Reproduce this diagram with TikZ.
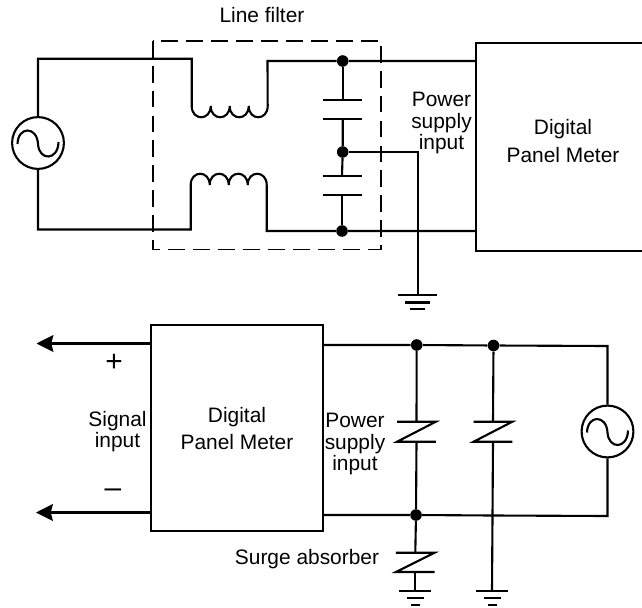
\documentclass[tikz,border=0pt]{standalone}
\usepackage{fontspec}
\setmainfont{Liberation Sans}
\usetikzlibrary{arrows.meta}
\tikzset{
    wire/.style={black, line width=1.2pt},
    arrowwire/.style={wire, -{Stealth[length=9.6pt, width=9.6pt, inset=1.2pt]}},
    dot/.style={circle, fill=black, inner sep=0pt, minimum size=6.6pt},
    lbl/.style={font=\fontsize{11.9}{15.5}\selectfont, align=center, inner sep=0pt},
    tightlbl/.style={font=\fontsize{11.9}{12.3}\selectfont, align=center, inner sep=0pt},
    signlbl/.style={font=\fontsize{17}{17}\selectfont, inner sep=0pt},
    source/.style={circle, draw, line width=1.2pt, inner sep=0pt, minimum size=29.5pt},
    filterbox/.style={draw, line width=1.1pt, dash pattern=on 9.6pt off 4.6pt},
}
% sine inside a source
\newcommand{\sinewave}[1]{
    \draw [wire, shift={(#1)}] (-20.5,1) .. controls (-20,-17) and (-1,-17) .. (0,1)
        .. controls (1,18) and (20,18) .. (20.5,-1);
}
% ground: three plates, half widths given
\newcommand{\earth}[4]{
    \draw [wire, shift={(#1)}] (-#2,0) -- (#2,0);
    \draw [wire, shift={(#1)}] (-#3,7.5) -- (#3,7.5);
    \draw [wire, shift={(#1)}] (-#4,14) -- (#4,14);
}
\newcommand{\plate}[1]{
    \draw [wire, shift={(#1)}] (-19.5,0) -- (19.5,0);
}
\newcommand{\absorber}[2]{
    \draw [wire] ([xshift=-11pt]#1) -- ([xshift=11pt]#1) -- ([xshift=-11pt]#2) -- ([xshift=11pt]#2);
}
\begin{document}
\begin{tikzpicture}[x=0.02cm,y=-0.02cm]
    \useasboundingbox (0,0) rectangle (642,608);
    % upper circuit
    \node [source] (srcA) at (38,143) {};
    \sinewave{srcA}
    \draw [filterbox] (152.7,40.7) rectangle (380.7,249.5);
    \node [lbl] (filterlbl) at (262,15) {Line filter};
    \coordinate (meterAnw) at (476,42.7);
    \coordinate (meterAsw) at (476,251);
    \coordinate (meterAne) at (642,42.7);
    \coordinate (meterAse) at (642,251);
    \draw [wire] (meterAne) -- (meterAnw) -- (meterAsw) -- (meterAse);
    \node [lbl] (meterAlbl) at (563,141) {Digital\\Panel Meter};
    \node [tightlbl] (powerA) at (441.5,123) {Power\\supply\\input};
    \node [dot] (d1) at (342.7,61) {};
    \node [dot] (d2) at (342.7,152) {};
    \node [dot] (d3) at (342,231) {};
    \coordinate (inA) at (476,61);
    \coordinate (inB) at (476,231);
    \coordinate (c1) at (342.7,100);
    \coordinate (c2) at (342.7,119.3);
    \coordinate (c3) at (342,176);
    \coordinate (c4) at (342,195);
    \coordinate (g1) at (417.7,295);
    \coordinate (corA) at (38,58.7);
    \coordinate (corB) at (38,229.5);
    \coordinate (coilAin) at (191.7,58.7);
    \coordinate (coilAout) at (267.5,61);
    \coordinate (coilBin) at (190.7,229.5);
    \coordinate (coilBout) at (266.7,231);
    \draw [wire] (srcA.north) -- (corA) -- (coilAin) -- (191.7,106)
        .. controls +(0,15) and +(0,15) .. ++(19,0)
        .. controls +(0,15) and +(0,15) .. ++(19,0)
        .. controls +(0,15) and +(0,15) .. ++(19,0)
        .. controls +(0,15) and +(0,15) .. ++(19,0)
        -- (coilAout) -- (d1) -- (inA);
    \draw [wire] (srcA.south) -- (corB) -- (coilBin) -- (190.7,185)
        .. controls +(0,-15) and +(0,-15) .. ++(19,0)
        .. controls +(0,-15) and +(0,-15) .. ++(19,0)
        .. controls +(0,-15) and +(0,-15) .. ++(19,0)
        .. controls +(0,-15) and +(0,-15) .. ++(19,0)
        -- (coilBout) -- (d3) -- (inB);
    \draw [wire] (d1) -- (c1);
    \draw [wire] (c2) -- (d2) -- (c3);
    \draw [wire] (c4) -- (d3);
    \plate{c1}
    \plate{c2}
    \plate{c3}
    \plate{c4}
    \draw [wire] (d2) -| (g1);
    \earth{g1}{19.5}{12.5}{7.5}
    % lower circuit
    \node [draw, line width=1.2pt, inner sep=0pt, minimum width=98pt, minimum height=117.3pt, anchor=north west] (meterB) at (149.5,324) {};
    \node [lbl] (meterBlbl) at (237,428.5) {Digital\\Panel Meter};
    \node [tightlbl] (powerB) at (355,444) {Power\\supply\\input};
    \node [tightlbl] (signal) at (117.5,431.5) {Signal\\input};
    \node [signlbl] (plus) at (114,362.5) {+};
    \node [signlbl] (minus) at (113,493.5) {--};
    \node [lbl] (surge) at (307,559.5) {Surge absorber};
    \coordinate (tipA) at (36.5,343.5);
    \coordinate (tipB) at (36,512.5);
    \coordinate (meterBa) at (150.5,343.5);
    \coordinate (meterBb) at (150.5,512.5);
    \draw [arrowwire] (meterBa) -- (tipA);
    \draw [arrowwire] (meterBb) -- (tipB);
    \node [source] (srcB) at (607.5,431.5) {};
    \sinewave{srcB}
    \node [dot] (d4) at (416.7,345) {};
    \node [dot] (d5) at (493.5,345.5) {};
    \node [dot] (d6) at (416,515) {};
    \coordinate (outA) at (323,345);
    \coordinate (outB) at (323,515);
    \coordinate (corC) at (607.5,346);
    \coordinate (corD) at (607.5,516);
    \coordinate (junc) at (492.5,515.5);
    \coordinate (z1a) at (416.5,421.7);
    \coordinate (z1b) at (416.5,441.7);
    \coordinate (z2a) at (493,421.7);
    \coordinate (z2b) at (493,441.7);
    \coordinate (z3a) at (415.3,552.7);
    \coordinate (z3b) at (415.3,572);
    \coordinate (g2) at (415.3,590.7);
    \coordinate (g3) at (492,590.7);
    \draw [wire] (outA) -- (d4) -- (d5) -- (corC) -- (srcB.north);
    \draw [wire] (outB) -- (d6) -- (junc) -- (corD) -- (srcB.south);
    \draw [wire] (d4) -- (z1a);
    \draw [wire] (z1b) -- (d6);
    \draw [wire] (d5) -- (z2a);
    \draw [wire] (z2b) -- (g3);
    \draw [wire] (d6) -- (z3a);
    \draw [wire] (z3b) -- (g2);
    \absorber{z1a}{z1b}
    \absorber{z2a}{z2b}
    \absorber{z3a}{z3b}
    \earth{g2}{16}{8.5}{4.5}
    \earth{g3}{16}{8.5}{4.5}
\end{tikzpicture}
\end{document}
